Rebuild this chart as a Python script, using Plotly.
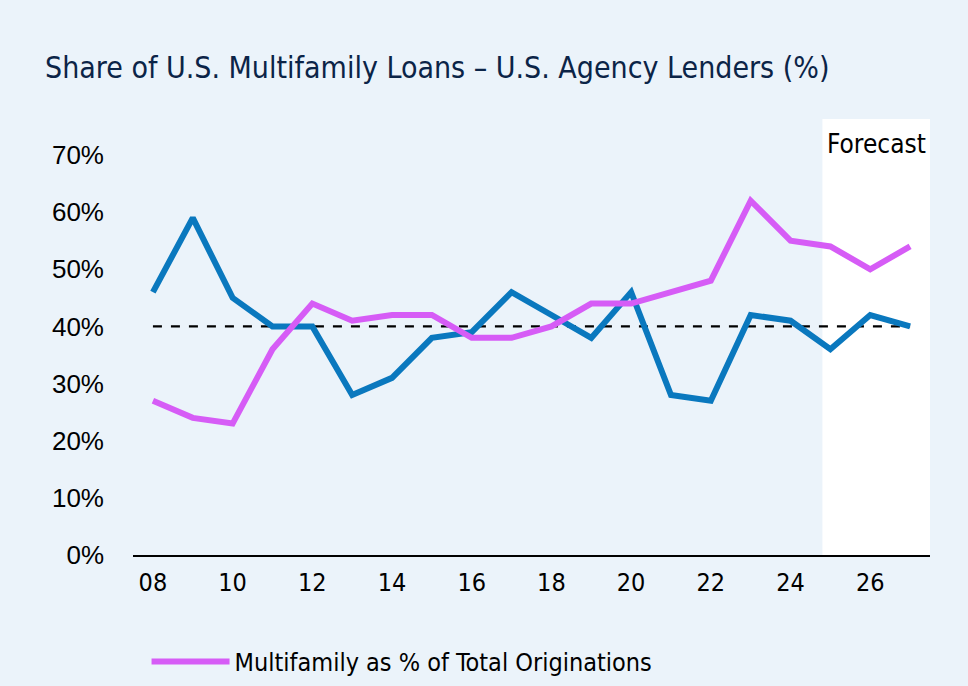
import plotly.graph_objects as go

years = list(range(8, 28))
agency_share = [46, 59, 45, 40, 40, 28, 31, 38, 39, 46, 42, 38, 46, 28, 27, 42, 41, 36, 42, 40]
multifamily_pct = [27, 24, 23, 36, 44, 41, 42, 42, 38, 38, 40, 44, 44, 46, 48, 62, 55, 54, 50, 54]
reference_level = 40
forecast_start = 24.8
x_ticks = [8, 10, 12, 14, 16, 18, 20, 22, 24, 26]
x_tick_text = ["08", "10", "12", "14", "16", "18", "20", "22", "24", "26"]
y_ticks = [0, 10, 20, 30, 40, 50, 60, 70]
y_tick_text = ["0%", "10%", "20%", "30%", "40%", "50%", "60%", "70%"]

BG = "#EBF3FA"
NARROW = "Liberation Sans Narrow, DejaVu Sans Condensed, sans-serif"

fig = go.Figure()

fig.add_shape(type="rect", xref="x", yref="paper", x0=forecast_start, x1=27.5, y0=0, y1=1,
              fillcolor="white", line_width=0, layer="below")

fig.add_trace(go.Scatter(x=[years[0], years[-1]], y=[reference_level, reference_level], mode="lines",
                         line=dict(color="black", width=2.2, dash="dash"), showlegend=False, hoverinfo="skip"))
fig.add_trace(go.Scatter(x=years, y=agency_share, mode="lines", name="U.S. Agency Lenders",
                         line=dict(color="#0A78BE", width=6), showlegend=False))
fig.add_trace(go.Scatter(x=years, y=multifamily_pct, mode="lines", name="Multifamily as % of Total Originations",
                         line=dict(color="#D65CF6", width=6)))

fig.add_annotation(x=(forecast_start + 27.5) / 2, xref="x", y=1, yref="paper", yanchor="top", yshift=-8,
                   text="Forecast", showarrow=False, font=dict(family=NARROW, size=26, color="black"))

fig.update_layout(
    width=968, height=686,
    paper_bgcolor=BG, plot_bgcolor=BG,
    margin=dict(l=133, r=38, t=119, b=131, autoexpand=False),
    title=dict(text="Share of U.S. Multifamily Loans – U.S. Agency Lenders (%)",
               x=45 / 968, xanchor="left", xref="container",
               y=1 - 67 / 686, yanchor="middle", yref="container",
               font=dict(family=NARROW, size=30, color="#0B2447")),
    showlegend=True,
    legend=dict(orientation="h", x=0.017, xanchor="left", y=-0.245, yanchor="middle",
                font=dict(family=NARROW, size=25, color="black"), bgcolor="rgba(0,0,0,0)",
                itemwidth=78),
    xaxis=dict(range=[7.5, 27.5], tickvals=x_ticks, ticktext=x_tick_text, showgrid=False, zeroline=False,
               showline=True, linecolor="black", linewidth=2, ticks="", ticklabelstandoff=4,
               tickfont=dict(family=NARROW, size=25, color="black")),
    yaxis=dict(range=[0, 76.3], tickvals=y_ticks, ticktext=y_tick_text, showgrid=False, zeroline=False,
               showline=False, ticks="", ticklabelstandoff=28,
               tickfont=dict(family="Liberation Sans, Arial, sans-serif", size=26, color="black")),
)

fig.write_html("out.html")
